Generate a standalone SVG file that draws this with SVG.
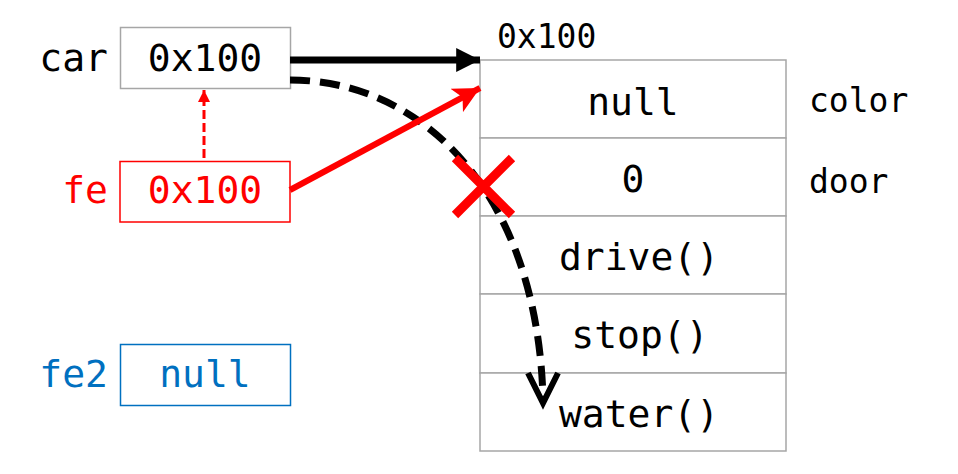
<svg xmlns="http://www.w3.org/2000/svg" width="958" height="474" viewBox="0 0 958 474">
<style>
text{font-family:"DejaVu Sans Mono","Liberation Mono",monospace}
.big{font-size:38px}
.sm{font-size:33px}
.c{text-anchor:middle}
.e{text-anchor:end}
.cell{fill:#fff;stroke:#a6a6a6;stroke-width:1.5}
</style>
<defs>
<marker id="ah" viewBox="0 0 10 10" refX="10" refY="5" markerWidth="3.6" markerHeight="3.4" orient="auto" markerUnits="strokeWidth"><path d="M0,0L10,5L0,10z" fill="#000"/></marker>
<marker id="ahr" viewBox="0 0 10 10" refX="10" refY="5" markerWidth="4.6" markerHeight="4.4" orient="auto" markerUnits="strokeWidth"><path d="M0,0L10,5L0,10L2.5,5z" fill="#f00"/></marker>
<marker id="ahrs" viewBox="0 0 10 10" refX="10" refY="5" markerWidth="4" markerHeight="4" orient="auto" markerUnits="strokeWidth"><path d="M0,0L10,5L0,10z" fill="#f00"/></marker>
</defs>
<rect width="958" height="474" fill="#fff"/>
<g id="car">
<rect x="120.5" y="27.5" width="170" height="61" fill="#fff" stroke="#a6a6a6" stroke-width="1.5"/>
<text class="big e" x="108" y="71">car</text>
<text class="big c" x="205" y="71">0x100</text>
</g>
<g id="fe">
<rect x="120" y="161.5" width="170" height="60.5" fill="#fff" stroke="#f00" stroke-width="1.5"/>
<text class="big e" x="108" y="203" fill="#f00">fe</text>
<text class="big c" x="205" y="203" fill="#f00">0x100</text>
</g>
<g id="fe2">
<rect x="120.5" y="344.5" width="170" height="61" fill="#fff" stroke="#0070c0" stroke-width="1.5"/>
<text class="big e" x="108" y="387" fill="#0070c0">fe2</text>
<text class="big c" x="205" y="387" fill="#0070c0">null</text>
</g>
<g id="object">
<text class="sm" x="497" y="48">0x100</text>
<rect class="cell" x="480" y="60" width="306" height="78"/>
<rect class="cell" x="480" y="138" width="306" height="78"/>
<rect class="cell" x="480" y="216" width="306" height="78"/>
<rect class="cell" x="480" y="294" width="306" height="79"/>
<rect class="cell" x="480" y="373" width="306" height="78"/>
<text class="big c" x="633" y="115">null</text>
<text class="big c" x="633" y="192">0</text>
<text class="big c" x="639" y="270">drive()</text>
<text class="big c" x="640" y="348">stop()</text>
<text class="big c" x="639" y="427">water()</text>
<text class="sm" x="809" y="112">color</text>
<text class="sm" x="809" y="193">door</text>
</g>
<g id="connectors">
<line x1="290" y1="60" x2="480" y2="60" stroke="#000" stroke-width="7" marker-end="url(#ah)"/>
<path d="M290,80 C420,80 537,190 543,398" fill="none" stroke="#000" stroke-width="7" stroke-dasharray="20 10"/>
<path d="M528,373 L543,403 L558,373" fill="none" stroke="#000" stroke-width="6"/>
<line x1="290" y1="190" x2="480" y2="88" stroke="#f00" stroke-width="6" marker-end="url(#ahr)"/>
<line x1="204" y1="158" x2="204" y2="90" stroke="#f00" stroke-width="3" stroke-dasharray="9 4" marker-end="url(#ahrs)"/>
<path d="M455,158 L512,215 M512,158 L455,215" stroke="#f00" stroke-width="9" fill="none"/>
</g>
</svg>
